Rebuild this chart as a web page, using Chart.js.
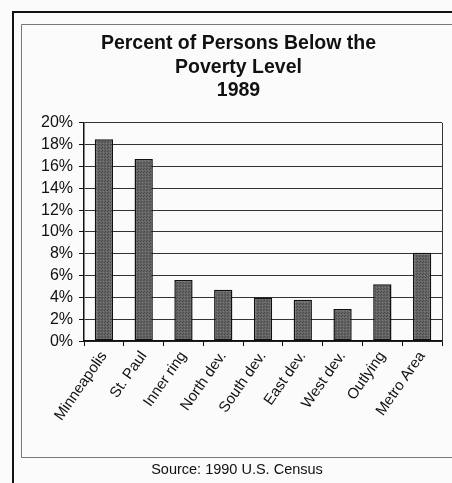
<!DOCTYPE html>
<html>
<head>
<meta charset="utf-8">
<script src="https://cdn.jsdelivr.net/npm/chart.js@4.4.0/dist/chart.umd.min.js"></script>
<style>
  html, body { margin: 0; padding: 0; background: #fbfbfb; }
  #wrap { width: 452px; height: 483px; position: relative; }
</style>
</head>
<body>
<div id="wrap"><canvas id="povertyChart" width="452" height="483"></canvas></div>
<script>
// Data
const areas = ["Minneapolis", "St. Paul", "Inner ring", "North dev.", "South dev.", "East dev.", "West dev.", "Outlying", "Metro Area"];
const povertyPct = [18.5, 16.7, 5.6, 4.7, 4.0, 3.8, 2.95, 5.2, 8.1];
const titleLines = ["Percent of Persons Below the", "Poverty Level", "1989"];
const sourceNote = "Source: 1990 U.S. Census";

// stippled grey fill, like the printed bars
function makeStipple() {
  const c = document.createElement("canvas");
  c.width = 3;
  c.height = 3;
  const g = c.getContext("2d");
  g.fillStyle = "#646464";
  g.fillRect(0, 0, 3, 3);
  g.fillStyle = "#4a4a4a";
  g.fillRect(0, 0, 1, 1);
  g.fillRect(2, 1, 1, 1);
  g.fillStyle = "#7a7a7a";
  g.fillRect(1, 2, 1, 1);
  return g.createPattern(c, "repeat");
}

// frames, plot box and source line
const framePlugin = {
  id: "frames",
  beforeDraw(chart) {
    const ctx = chart.ctx;
    ctx.save();
    ctx.fillStyle = "#fbfbfb";
    ctx.fillRect(0, 0, chart.width, chart.height);
    ctx.strokeStyle = "#111";
    ctx.lineWidth = 2;
    ctx.beginPath();
    ctx.moveTo(13, chart.height + 5);
    ctx.lineTo(13, 12);
    ctx.lineTo(chart.width + 5, 12);
    ctx.stroke();
    ctx.strokeStyle = "#777";
    ctx.lineWidth = 1;
    ctx.beginPath();
    ctx.moveTo(chart.width + 5, 24.5);
    ctx.lineTo(21.5, 24.5);
    ctx.lineTo(21.5, 457.5);
    ctx.lineTo(chart.width + 5, 457.5);
    ctx.stroke();
    ctx.restore();
  },
  afterDraw(chart) {
    const ctx = chart.ctx;
    const a = chart.chartArea;
    ctx.save();
    ctx.strokeStyle = "#333";
    ctx.lineWidth = 1;
    ctx.beginPath();
    ctx.moveTo(Math.round(a.right) + 0.5, a.top);
    ctx.lineTo(Math.round(a.right) + 0.5, a.bottom);
    ctx.stroke();
    ctx.fillStyle = "#111";
    ctx.font = "14.5px 'Liberation Sans', Arial, sans-serif";
    ctx.textAlign = "center";
    ctx.textBaseline = "middle";
    ctx.fillText(sourceNote, 237, 470);
    ctx.restore();
  }
};

const ctx = document.getElementById("povertyChart").getContext("2d");

new Chart(ctx, {
  type: "bar",
  data: {
    labels: areas,
    datasets: [
      {
        label: "Percent below poverty level",
        data: povertyPct,
        backgroundColor: makeStipple(),
        borderColor: "#111",
        borderWidth: 1.5,
        borderSkipped: false,
        categoryPercentage: 1,
        barPercentage: 0.46,
      },
    ],
  },
  options: {
    responsive: false,
    animation: false,
    layout: {
      padding: { left: 35, right: 10, top: 30, bottom: 57 },
    },
    scales: {
      y: {
        min: 0,
        max: 20,
        ticks: {
          stepSize: 2,
          autoSkip: false,
          color: "#111",
          padding: 6,
          font: { family: "'Liberation Sans', Arial, sans-serif", size: 16 },
          callback: (v) => v + "%",
        },
        grid: { color: "#333", lineWidth: 1, tickLength: 5, tickColor: "#111" },
        border: { color: "#111", width: 1.5 },
      },
      x: {
        ticks: {
          color: "#111",
          autoSkip: false,
          minRotation: 55,
          maxRotation: 55,
          padding: 2,
          font: { family: "'Liberation Sans', Arial, sans-serif", size: 15 },
        },
        grid: { offset: true, drawOnChartArea: false, tickLength: 5, tickColor: "#111" },
        border: { color: "#111", width: 1.5 },
      },
    },
    plugins: {
      title: {
        display: true,
        text: titleLines,
        color: "#111",
        font: { family: "'Liberation Sans', Arial, sans-serif", size: 19.5, weight: "bold", lineHeight: 1.22 },
        padding: { top: 1.5, bottom: 20 },
      },
      legend: { display: false },
      tooltip: { enabled: false },
    },
  },
  plugins: [framePlugin],
});
</script>
</body>
</html>
